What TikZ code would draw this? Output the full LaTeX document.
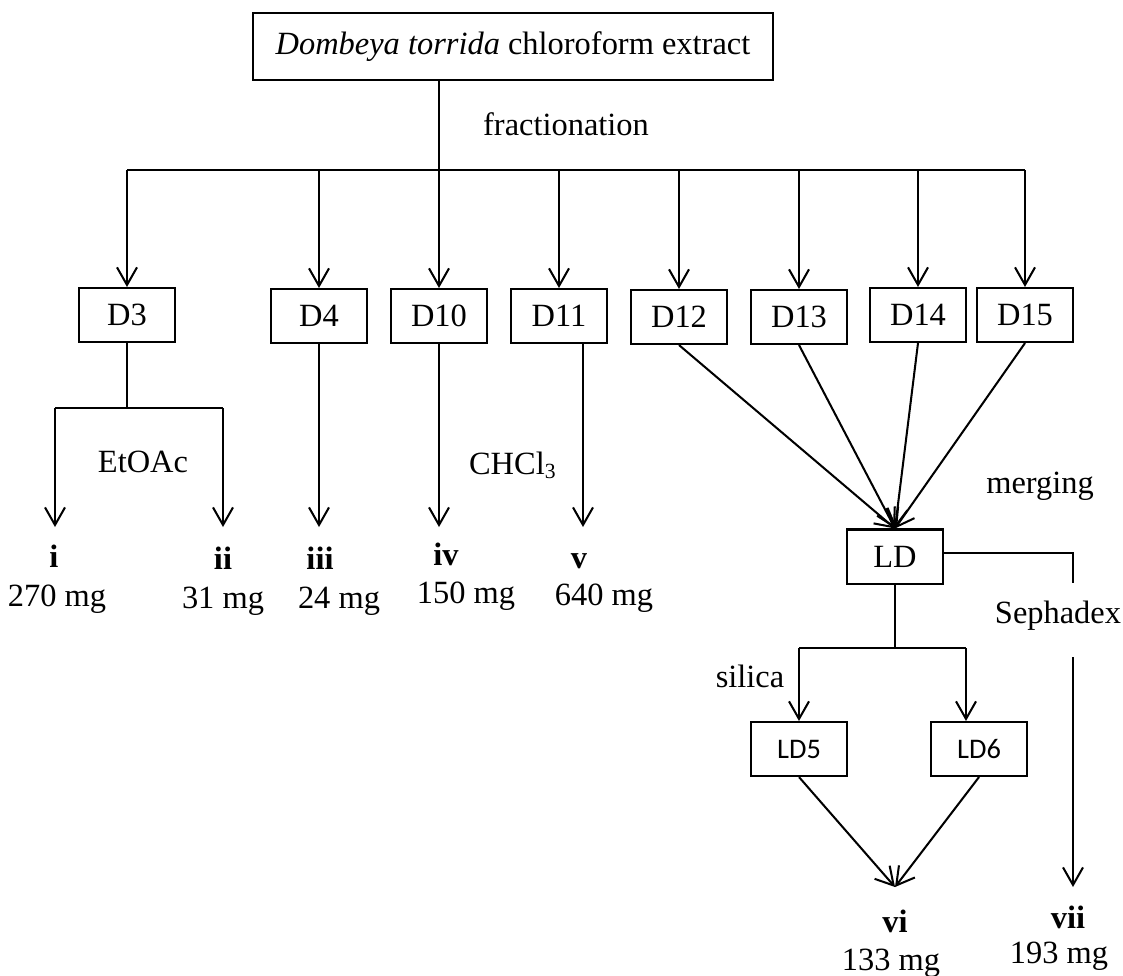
\documentclass[tikz,border=0pt]{standalone}
\usepackage{fontspec}
\setmainfont{Liberation Serif}
\newfontfamily\calibrifont{Carlito}
\usepackage{tikz}
\usetikzlibrary{arrows.meta, positioning, calc}
\tikzset{
	frac_box/.style={rectangle, draw=black, line width=0.75pt, minimum width=35.5pt, minimum height=20pt, inner sep=0pt, font=\fontsize{12}{14}\selectfont},
	extract_box/.style={frac_box, minimum width=192.5pt, minimum height=24.8pt},
	sub_box/.style={frac_box, font=\calibrifont\fontsize{10.5}{12}\selectfont},
	conn/.style={draw=black, line width=0.75pt},
	flow_arrow/.style={conn, -{Straight Barb[length=6.5pt, width=7.4pt, line width=0.75pt]}},
	cmpd_label/.style={anchor=base, font=\bfseries\fontsize{12}{14}\selectfont},
	mass_label/.style={anchor=base, font=\fontsize{12}{14}\selectfont},
	solvent_label/.style={anchor=base, font=\fontsize{12}{14}\selectfont}
}
\begin{document}
\begin{tikzpicture}[x=0.37pt, y=-0.37pt]
	\useasboundingbox (0,0) rectangle (1123,975);
	% extract and fractions
	\node[extract_box] (extract) at (513,46.5) {\textit{Dombeya torrida} chloroform extract};
	\coordinate (bus) at (439,170);
	\node[frac_box] (d3) at (127,315) {D3};
	\node[frac_box] (d4) at (319,316) {D4};
	\node[frac_box] (d10) at (439,316) {D10};
	\node[frac_box] (d11) at (559,316) {D11};
	\node[frac_box] (d12) at (679,317) {D12};
	\node[frac_box] (d13) at (799,317) {D13};
	\node[frac_box] (d14) at (918,315) {D14};
	\node[frac_box] (d15) at (1025,315) {D15};
	\node[solvent_label] (fractionation) at (566,135) {fractionation};
	\draw[conn] (extract.south -| bus) -- (bus);
	\draw[conn] (d3 |- bus) -- (d15 |- bus);
	\foreach \fr in {d3,d4,d10,d11,d12,d13,d14,d15}
		\draw[flow_arrow] (\fr |- bus) -- (\fr.north);
	% D3 split
	\coordinate (d3split) at (127,408);
	\coordinate (split_l) at (55,408);
	\coordinate (split_r) at (223,408);
	\coordinate (tip_i) at (55,527);
	\coordinate (tip_ii) at (223,527);
	\draw[conn] (d3.south) -- (d3split);
	\draw[conn] (split_l) -- (split_r);
	\draw[flow_arrow] (split_l) -- (tip_i);
	\draw[flow_arrow] (split_r) -- (tip_ii);
	\node[solvent_label] (etoac) at (143,472) {EtOAc};
	% single columns
	\coordinate (tip_iii) at (319,527);
	\coordinate (tip_iv) at (439,527);
	\coordinate (d11_out) at (583,344);
	\coordinate (tip_v) at (583,527);
	\draw[flow_arrow] (d4.south) -- (tip_iii);
	\draw[flow_arrow] (d10.south) -- (tip_iv);
	\draw[flow_arrow] (d11_out) -- (tip_v);
	\node[solvent_label] (chcl3) at (513,474) {CHCl\textsubscript{3}};
	% compounds i-v
	\node[cmpd_label] (c_i) at (54,567) {i};
	\node[mass_label] (m_i) at (57,606) {270 mg};
	\node[cmpd_label] (c_ii) at (223,569) {ii};
	\node[mass_label] (m_ii) at (223,608) {31 mg};
	\node[cmpd_label] (c_iii) at (320,569) {iii};
	\node[mass_label] (m_iii) at (339,608) {24 mg};
	\node[cmpd_label] (c_iv) at (446,565) {iv};
	\node[mass_label] (m_iv) at (466,603) {150 mg};
	\node[cmpd_label] (c_v) at (579,568) {v};
	\node[mass_label] (m_v) at (604,605) {640 mg};
	% merging
	\node[frac_box] (ld) at (895,556.5) {LD};
	\foreach \fr in {d12,d13,d14,d15}
		\draw[flow_arrow] (\fr.south) -- (ld.north);
	\node[solvent_label] (merging) at (1040,493) {merging};
	% Sephadex
	\coordinate (seph_a) at (1073,553);
	\coordinate (seph_b) at (1073,583);
	\coordinate (seph_c) at (1073,657);
	\coordinate (tip_vii) at (1073,887);
	\draw[conn] (ld.east |- seph_a) -- (seph_a) -- (seph_b);
	\draw[flow_arrow] (seph_c) -- (tip_vii);
	\node[solvent_label] (sephadex) at (1058,623) {Sephadex};
	% silica
	\node[sub_box] (ld5) at (799,749) {LD5};
	\node[sub_box] (ld6) at (979,749) {LD6};
	\coordinate (ld_split) at (895,648);
	\coordinate (silica_l) at (799,648);
	\coordinate (silica_r) at (966,648);
	\draw[conn] (ld.south) -- (ld_split);
	\draw[conn] (silica_l) -- (silica_r);
	\draw[flow_arrow] (silica_l) -- (ld5.north);
	\draw[flow_arrow] (silica_r) -- (silica_r |- ld6.north);
	\node[solvent_label] (silica) at (750,687) {silica};
	\coordinate (tip_vi) at (895,887);
	\draw[flow_arrow] (ld5.south) -- (tip_vi);
	\draw[flow_arrow] (ld6.south) -- (tip_vi);
	% compounds vi, vii
	\node[cmpd_label] (c_vi) at (895,932) {vi};
	\node[mass_label] (m_vi) at (891,970) {133 mg};
	\node[cmpd_label] (c_vii) at (1068,928) {vii};
	\node[mass_label] (m_vii) at (1059,963) {193 mg};
\end{tikzpicture}
\end{document}
